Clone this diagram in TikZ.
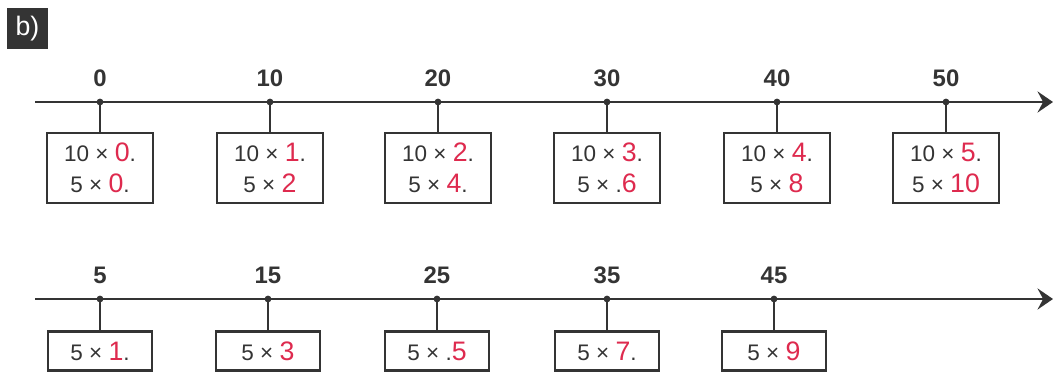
\documentclass[tikz,border=0pt]{standalone}
\usepackage{fontspec}
\setmainfont{Liberation Sans}
\usepackage{xcolor}
\usetikzlibrary{arrows.meta,positioning}
\definecolor{inkgray}{RGB}{52,52,52}
\definecolor{penred}{RGB}{222,42,78}
\newcommand{\ans}[1]{{\fontsize{19}{22}\selectfont\textcolor{penred}{#1}}}
\tikzset{
  tagbox/.style={fill=inkgray, text=white, minimum width=1.02cm, minimum height=1.02cm, inner sep=0pt, font=\fontsize{19}{20}\selectfont},
  numline/.style={draw=inkgray, line width=2pt, -{Stealth[length=11pt, width=15pt, inset=4pt]}},
  stem/.style={draw=inkgray, line width=1.8pt},
  ticklbl/.style={text=inkgray, font=\fontsize{17}{18}\selectfont\bfseries, inner sep=0pt},
  twobox/.style={draw=inkgray, line width=1.7pt, fill=white, minimum width=2.65cm, minimum height=1.75cm, inner sep=1pt, align=center, text=inkgray, font=\fontsize{16}{22}\selectfont},
  onebox/.style={draw=inkgray, line width=1.7pt, fill=white, minimum width=2.6cm, minimum height=0.98cm, inner sep=1pt, align=center, text=inkgray, font=\fontsize{16}{22}\selectfont},
}
\begin{document}
\begin{tikzpicture}[x=0.025cm, y=-0.025cm]
  \useasboundingbox (0,0) rectangle (1055,374);
  \node[tagbox] (tag) at (27.5,28.5) {b)};

  % first line: steps of ten
  \coordinate (a0) at (35,102);
  \coordinate (a1) at (1053,102);
  \draw[numline] (a0) -- (a1);
  \foreach \n/\x/\p/\q in {0/100/{\ans{0}.}/{\ans{0}.}, 10/270/{\ans{1}.}/{\ans{2}},
      20/438/{\ans{2}.}/{\ans{4}.}, 30/607/{\ans{3}.}/{.\ans{6}},
      40/777/{\ans{4}.}/{\ans{8}}, 50/946/{\ans{5}.}/{\ans{10}}} {
    \coordinate (t\n) at (\x,102);
    \node[ticklbl] (l\n) at (\x,78) {\n};
    \node[twobox] (b\n) at (\x,168) {10 × \p\\5 × \q};
    \draw[stem] (t\n) -- (b\n.north);
    \fill[inkgray] (t\n) circle (3.4);
  }

  % second line: the fives in between
  \coordinate (c0) at (35,299);
  \coordinate (c1) at (1053,299);
  \draw[numline] (c0) -- (c1);
  \foreach \n/\x/\p in {5/100/{\ans{1}.}, 15/268/{\ans{3}}, 25/437/{.\ans{5}},
      35/607/{\ans{7}.}, 45/774/{\ans{9}}} {
    \coordinate (t\n) at (\x,299);
    \node[ticklbl] (l\n) at (\x,275) {\n};
    \node[onebox] (b\n) at (\x,351) {5 × \p};
    \draw[stem] (t\n) -- (b\n.north);
    \fill[inkgray] (t\n) circle (3.4);
  }
\end{tikzpicture}
\end{document}
